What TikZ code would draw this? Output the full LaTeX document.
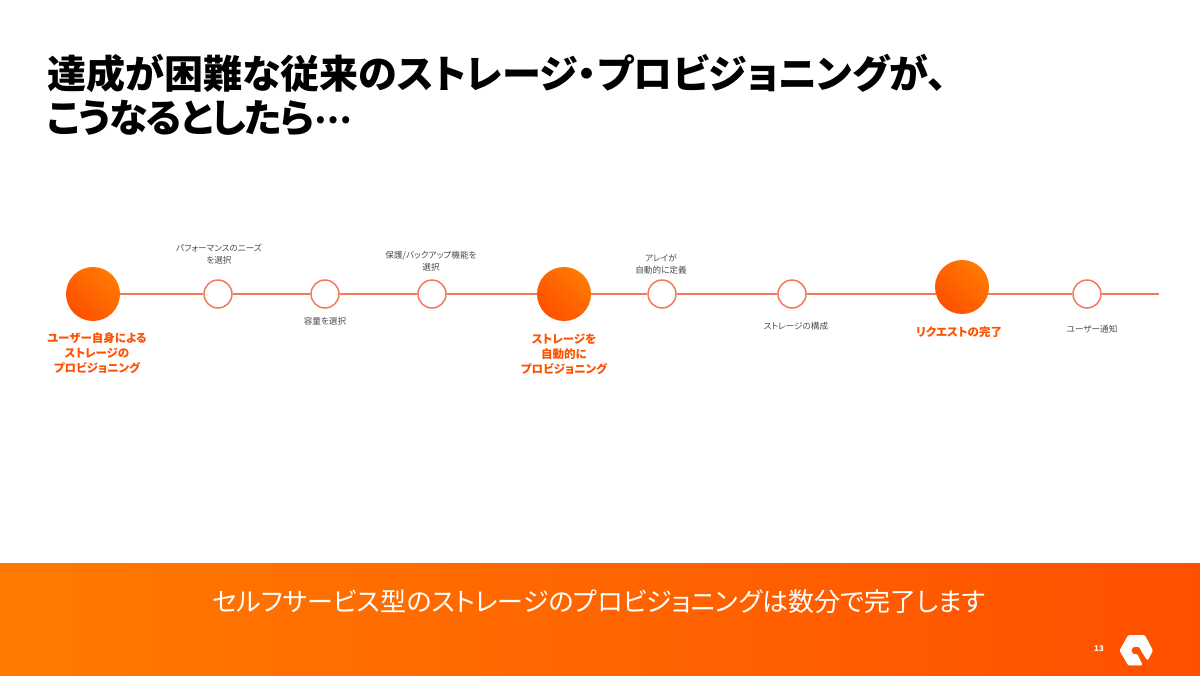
\documentclass[tikz,border=0pt]{standalone}
\usepackage{fontspec}
\setmainfont[RawFeature=+palt]{Noto Sans CJK JP}
\usetikzlibrary{arrows}
\definecolor{pureorange}{HTML}{FF7A00}
\definecolor{purered}{HTML}{FF5000}
\definecolor{lineorange}{HTML}{F4795B}
\definecolor{labelgray}{HTML}{4A4A4A}

\begin{document}
\begin{tikzpicture}
\tikzset{bigstep/.style = {shape=circle,minimum size=1.08cm,inner sep=0pt,shading=axis,left color=pureorange,right color=purered,shading angle=-45}}
\tikzset{smallstep/.style = {shape=circle,draw=lineorange,fill=white,line width=0.85pt,minimum size=0.56cm,inner sep=0pt}}
\tikzset{edge/.style = {-,draw=lineorange,line width=0.6pt}}
\tikzset{note/.style = {align=center,text=labelgray,font=\fontsize{4.9}{6.9}\selectfont,inner sep=0pt}}
\tikzset{boldnote/.style = {align=center,text=purered,font=\fontsize{6.55}{8.5}\selectfont\bfseries,inner sep=0pt}}
\useasboundingbox (0,0) rectangle (24,13.5);
% title and bar
\node[anchor=west,align=left,inner sep=0pt,font=\fontsize{22.2}{25}\selectfont\bfseries] (title) at (0.94,11.6) {達成が困難な従来のストレージ・プロビジョニングが、\\\addfontfeatures{LetterSpace=-4}こうなるとしたら\raisebox{0.22em}{\fontsize{19}{19}\selectfont …}};
\node[minimum width=24cm,minimum height=2.24cm,inner sep=0pt,left color=pureorange,right color=purered] (bar) at (12,1.12) {};
\node[text=white,inner sep=0pt,font=\fontsize{14.8}{18}\selectfont] (summary) at (11.98,1.46) {セルフサービス型のストレージのプロビジョニングは数分で完了します};
\node[text=white,inner sep=0pt,font=\fontsize{4.5}{6}\selectfont\bfseries] (page) at (21.98,0.52) {13};
% vertices
\node[bigstep] (b1) at (1.86,7.62) {};
\node[smallstep] (s1) at (4.36,7.62) {};
\node[smallstep] (s2) at (6.5,7.62) {};
\node[smallstep] (s3) at (8.64,7.62) {};
\node[bigstep] (b2) at (11.28,7.62) {};
\node[smallstep] (s4) at (13.24,7.62) {};
\node[smallstep] (s5) at (15.84,7.62) {};
\node[bigstep] (b3) at (19.24,7.76) {};
\node[smallstep] (s6) at (21.74,7.62) {};
\coordinate (end) at (23.18,7.62);
%edges
\draw[edge] (b1) to (s1);
\draw[edge] (s1) to (s2);
\draw[edge] (s2) to (s3);
\draw[edge] (s3) to (b2);
\draw[edge] (b2) to (s4);
\draw[edge] (s4) to (s5);
\draw[edge] (s5) to (b3.195 |- s5);
\draw[edge] (b3.-15 |- s6) to (s6);
\draw[edge] (s6) to (end);
% labels
\node[boldnote] (l1) at (1.94,6.44) {ユーザー自身による\\ストレージの\\プロビジョニング};
\node[note] (l2) at (4.38,8.42) {パフォーマンスのニーズ\\を選択};
\node[note] (l3) at (6.5,7.08) {容量を選択};
\node[note] (l4) at (8.62,8.28) {保護/バックアップ機能を\\選択};
\node[boldnote] (l5) at (11.28,6.42) {ストレージを\\自動的に\\プロビジョニング};
\node[note] (l6) at (13.22,8.22) {アレイが\\自動的に定義};
\node[note] (l7) at (15.92,6.98) {ストレージの構成};
\node[boldnote] (l8) at (19.18,6.86) {リクエストの完了};
\node[note] (l9) at (21.84,6.92) {ユーザー通知};
% logo
\fill[white,draw=white,line width=0.5pt,line join=round,rounded corners=0.6pt,shift={(22.3,0.9)}] (.54,-.70) -- (.27,-.70) -- (.10,-.41) -- (.27,-.11) -- (.59,-.11) -- (.75,-.41) -- (.65,-.60) -- (.54,-.43) -- (.49,-.33) -- (.36,-.33) -- (.31,-.41) -- (.36,-.49) -- (.44,-.49) -- cycle;
\end{tikzpicture}
\end{document}
